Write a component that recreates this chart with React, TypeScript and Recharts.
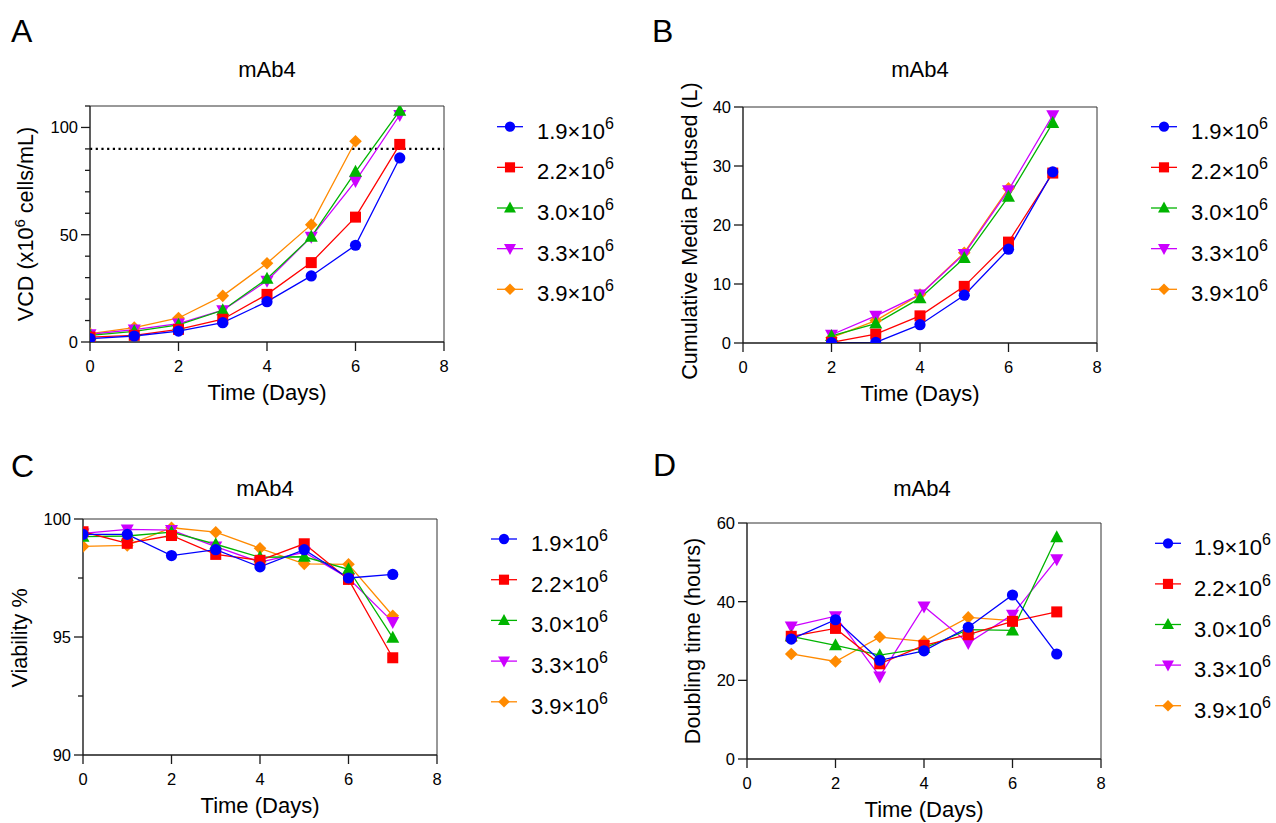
import React from 'react';
import { LineChart, Line, XAxis, YAxis, ReferenceLine } from 'recharts';

// series (seeding density) info
const seriesNames = ['1.9', '2.2', '3.0', '3.3', '3.9'];
const seriesColors = ['#0000ff', '#ff0000', '#00b400', '#cc00ff', '#ff8a00'];
const seriesShapes = ['circle', 'square', 'triangle', 'triangleDown', 'diamond'];

// A: VCD (x10^6 cells/mL)
const vcdDays = [0, 1, 2, 3, 4, 5, 6, 7];
const vcd19 = [1.6, 2.8, 5.1, 9.0, 18.8, 30.8, 45.1, 85.8];
const vcd22 = [2.3, 3.1, 5.9, 10.6, 22.2, 37.0, 58.2, 92.1];
const vcd30 = [3.1, 5.0, 8.0, 14.8, 29.5, 49.0, 79.3, 107.8];
const vcd33 = [3.6, 5.8, 8.6, 14.8, 28.5, 49.0, 75.0, 105.8];
const vcd39 = [3.9, 6.7, 11.2, 21.5, 36.7, 54.7, 93.6, null];
const vcdLimit = 90;

// B: cumulative media perfused (L)
const mediaDays = [2, 3, 4, 5, 6, 7];
const media19 = [0.05, 0.1, 3.1, 8.1, 15.9, 29.0];
const media22 = [0.1, 1.5, 4.6, 9.6, 17.1, 28.8];
const media30 = [1.2, 3.3, 7.6, 14.4, 24.8, 37.3];
const media33 = [1.4, 4.6, 8.2, 15.1, 25.9, 38.6];
const media39 = [0.9, 3.8, 8.2, 15.3, 26.2, null];

// C: viability %
const viaDays = [0, 1, 2, 3, 4, 5, 6, 7];
const via19 = [99.35, 99.35, 98.45, 98.7, 97.97, 98.7, 97.5, 97.65];
const via22 = [99.46, 98.97, 99.3, 98.5, 98.25, 98.95, 97.44, 94.12];
const via30 = [99.25, 99.28, 99.44, 98.93, 98.38, 98.4, 97.87, 94.97];
const via33 = [99.39, 99.56, 99.53, 98.83, 98.17, 98.59, 97.49, 95.64];
const via39 = [98.84, 98.88, 99.63, 99.44, 98.76, 98.1, 98.08, 95.9];

// D: doubling time (hours)
const dtDays = [1, 2, 3, 4, 5, 6, 7];
const dt19 = [30.5, 35.4, 25.1, 27.5, 33.5, 41.7, 26.7];
const dt22 = [31.2, 33.2, 24.2, 28.9, 31.6, 35.0, 37.4];
const dt30 = [31.2, 28.9, 26.4, 28.2, 32.9, 32.7, 56.4];
const dt33 = [33.7, 36.3, 21.0, 38.8, 29.5, 36.7, 50.8];
const dt39 = [26.7, 24.8, 31.0, 29.9, 36.0, 35.2, null];

const xTicks = [0, 2, 4, 6, 8];

const toRows = (days: number[], cols: (number | null)[][]) =>
  days.map((d, i) => {
    const row: any = { day: d };
    cols.forEach((c, k) => (row['s' + k] = c[i]));
    return row;
  });

const vcdData = toRows(vcdDays, [vcd19, vcd22, vcd30, vcd33, vcd39]);
const mediaData = toRows(mediaDays, [media19, media22, media30, media33, media39]);
const viaData = toRows(viaDays, [via19, via22, via30, via33, via39]);
const dtData = toRows(dtDays, [dt19, dt22, dt30, dt33, dt39]);

const FONT = '"Liberation Sans", Arial, sans-serif';
const AXIS = '#1a1a1a';

const Marker = ({ shape, cx, cy, color, s = 1 }: any) => {
  switch (shape) {
    case 'circle':
      return <circle cx={cx} cy={cy} r={5.6 * s} fill={color} />;
    case 'square':
      return <rect x={cx - 5.5 * s} y={cy - 5.5 * s} width={11 * s} height={11 * s} fill={color} />;
    case 'triangle':
      return <polygon points={`${cx},${cy - 7 * s} ${cx + 6.5 * s},${cy + 5 * s} ${cx - 6.5 * s},${cy + 5 * s}`} fill={color} />;
    case 'triangleDown':
      return <polygon points={`${cx},${cy + 7 * s} ${cx + 6.5 * s},${cy - 5 * s} ${cx - 6.5 * s},${cy - 5 * s}`} fill={color} />;
    default:
      return <polygon points={`${cx},${cy - 6.3 * s} ${cx + 6.3 * s},${cy} ${cx},${cy + 6.3 * s} ${cx - 6.3 * s},${cy}`} fill={color} />;
  }
};

const makeDot = (k: number) => (p: any) => {
  const key = `dot-${k}-${p.index}`;
  if (p.value == null || p.cy == null) return <g key={key} />;
  return <Marker key={key} shape={seriesShapes[k]} cx={p.cx} cy={p.cy} color={seriesColors[k]} />;
};

const YTick = (majors: number[]) => (p: any) => {
  const v = p.payload.value;
  const major = majors.includes(v);
  return (
    <g>
      <line x1={p.x} x2={p.x - (major ? 9 : 5)} y1={p.y} y2={p.y} stroke={AXIS} strokeWidth={1.3} />
      {major && (
        <text x={p.x - 12} y={p.y + 6} textAnchor="end" fontSize={16.5} fontFamily={FONT} fill="#000">
          {v}
        </text>
      )}
    </g>
  );
};

const XTick = (p: any) => (
  <g>
    <line x1={p.x} x2={p.x} y1={p.y} y2={p.y + 9} stroke={AXIS} strokeWidth={1.3} />
    <text x={p.x} y={p.y + 29.5} textAnchor="middle" fontSize={16.5} fontFamily={FONT} fill="#000">
      {p.payload.value}
    </text>
  </g>
);

const XTitle = (p: any) => {
  const vb = p.viewBox;
  return (
    <text x={vb.x + vb.width / 2} y={vb.y + 58} textAnchor="middle" fontSize={22} fontFamily={FONT} fill="#000">
      Time (Days)
    </text>
  );
};

const YTitle = (label: React.ReactNode, dx: number, dy: number) => (p: any) => {
  const vb = p.viewBox;
  const x = vb.x + vb.width - dx;
  const y = vb.y + vb.height / 2 + dy;
  return (
    <text x={x} y={y} transform={`rotate(-90 ${x} ${y})`} textAnchor="middle" fontSize={21.6} fontFamily={FONT} fill="#000">
      {label}
    </text>
  );
};

// legend drawn in page coordinates
const LegendBlock = ({ mx, tx, y0, step }: { mx: number; tx: number; y0: number; step: number }) => (
  <g>
    {seriesNames.map((n, k) => {
      const y = y0 + k * step;
      return (
        <g key={n}>
          <line x1={mx - 13} x2={mx + 13} y1={y} y2={y} stroke={seriesColors[k]} strokeWidth={1.3} />
          <Marker shape={seriesShapes[k]} cx={mx} cy={y} color={seriesColors[k]} s={0.92} />
          <text x={tx} y={y + 12} fontSize={22} fontFamily={FONT} fill="#000">
            {n}×10
            <tspan dy={-10} fontSize={16}>6</tspan>
          </text>
        </g>
      );
    })}
  </g>
);

type PanelProps = {
  left: number;
  top: number;
  width: number;
  height: number;
  plot: { l: number; r: number; t: number; b: number };
  data: any[];
  yDomain: [number, number];
  yTicks: number[];
  yMajors: number[];
  yLabel: React.ReactNode;
  yLabelDx: number;
  yLabelDy: number;
  limit?: number;
};

const Panel = ({ left, top, width, height, plot, data, yDomain, yTicks, yMajors, yLabel, yLabelDx, yLabelDy, limit }: PanelProps) => (
  <div style={{ position: 'absolute', left, top }}>
    <LineChart
      width={width}
      height={height}
      data={data}
      margin={{ top: plot.t, left: 0, right: width - plot.r, bottom: 0 }}
    >
      <XAxis
        type="number"
        dataKey="day"
        domain={[0, 8]}
        ticks={xTicks}
        interval={0}
        allowDataOverflow
        height={height - plot.b}
        axisLine={{ stroke: AXIS, strokeWidth: 1.4 }}
        tickLine={false}
        tickSize={0}
        tickMargin={0}
        tick={XTick}
        label={{ content: XTitle }}
      />
      <YAxis
        type="number"
        domain={yDomain}
        ticks={yTicks}
        interval={0}
        allowDataOverflow
        width={plot.l}
        axisLine={{ stroke: AXIS, strokeWidth: 1.4 }}
        tickLine={false}
        tickSize={0}
        tickMargin={0}
        tick={YTick(yMajors)}
        label={{ content: YTitle(yLabel, yLabelDx, yLabelDy) }}
      />
      <ReferenceLine y={yDomain[1]} stroke="#333" strokeWidth={1} />
      <ReferenceLine x={8} stroke="#333" strokeWidth={1} />
      {limit != null && (
        <ReferenceLine y={limit} stroke="#000" strokeWidth={2.4} strokeDasharray="2.2 3.5" />
      )}
      {[4, 3, 2, 1, 0].map((k) => (
        <Line
          key={k}
          dataKey={'s' + k}
          stroke={seriesColors[k]}
          strokeWidth={1.3}
          dot={makeDot(k)}
          activeDot={false}
          isAnimationActive={false}
        />
      ))}
    </LineChart>
  </div>
);

const vcdLabel = (
  <>
    VCD (x10<tspan dy={-8} fontSize={15}>6</tspan>
    <tspan dy={8}> cells/mL)</tspan>
  </>
);

export default function App() {
  return (
    <div style={{ position: 'absolute', left: 0, top: 0, width: 1276, height: 823, background: '#fff', fontFamily: FONT }}>
      <svg width={1276} height={823} style={{ position: 'absolute', left: 0, top: 0 }}>
        <g fontFamily={FONT} fill="#000">
          <text x={11} y={42} fontSize={32}>A</text>
          <text x={652} y={42} fontSize={32}>B</text>
          <text x={11} y={477} fontSize={32}>C</text>
          <text x={653} y={476} fontSize={32}>D</text>
          <text x={267} y={77} fontSize={22} textAnchor="middle">mAb4</text>
          <text x={920} y={77} fontSize={22} textAnchor="middle">mAb4</text>
          <text x={265} y={496} fontSize={22} textAnchor="middle">mAb4</text>
          <text x={922} y={496} fontSize={22} textAnchor="middle">mAb4</text>
        </g>
        <LegendBlock mx={510} tx={537} y0={126.7} step={40.65} />
        <LegendBlock mx={1164} tx={1191} y0={126.7} step={40.65} />
        <LegendBlock mx={504} tx={531} y0={539} step={40.7} />
        <LegendBlock mx={1168} tx={1194} y0={543.3} step={40.6} />
      </svg>
      <Panel
        left={0}
        top={0}
        width={640}
        height={420}
        plot={{ l: 90, r: 444, t: 106, b: 342 }}
        data={vcdData}
        yDomain={[0, 110]}
        yTicks={[0, 10, 20, 30, 40, 50, 60, 70, 80, 90, 100, 110]}
        yMajors={[0, 50, 100]}
        yLabel={vcdLabel}
        yLabelDx={57}
        yLabelDy={0}
        limit={vcdLimit}
      />
      <Panel
        left={640}
        top={0}
        width={636}
        height={420}
        plot={{ l: 103, r: 457, t: 107, b: 343 }}
        data={mediaData}
        yDomain={[0, 40]}
        yTicks={[0, 10, 20, 30, 40]}
        yMajors={[0, 10, 20, 30, 40]}
        yLabel="Cumulative Media Perfused (L)"
        yLabelDx={46}
        yLabelDy={6}
      />
      <Panel
        left={0}
        top={420}
        width={640}
        height={403}
        plot={{ l: 83, r: 437, t: 99, b: 335 }}
        data={viaData}
        yDomain={[90, 100]}
        yTicks={[90, 92.5, 95, 97.5, 100]}
        yMajors={[90, 95, 100]}
        yLabel="Viability %"
        yLabelDx={56}
        yLabelDy={1}
      />
      <Panel
        left={640}
        top={420}
        width={636}
        height={403}
        plot={{ l: 107, r: 461, t: 103, b: 339 }}
        data={dtData}
        yDomain={[0, 60]}
        yTicks={[0, 20, 40, 60]}
        yMajors={[0, 20, 40, 60]}
        yLabel="Doubling time (hours)"
        yLabelDx={47}
        yLabelDy={0}
      />
    </div>
  );
}
